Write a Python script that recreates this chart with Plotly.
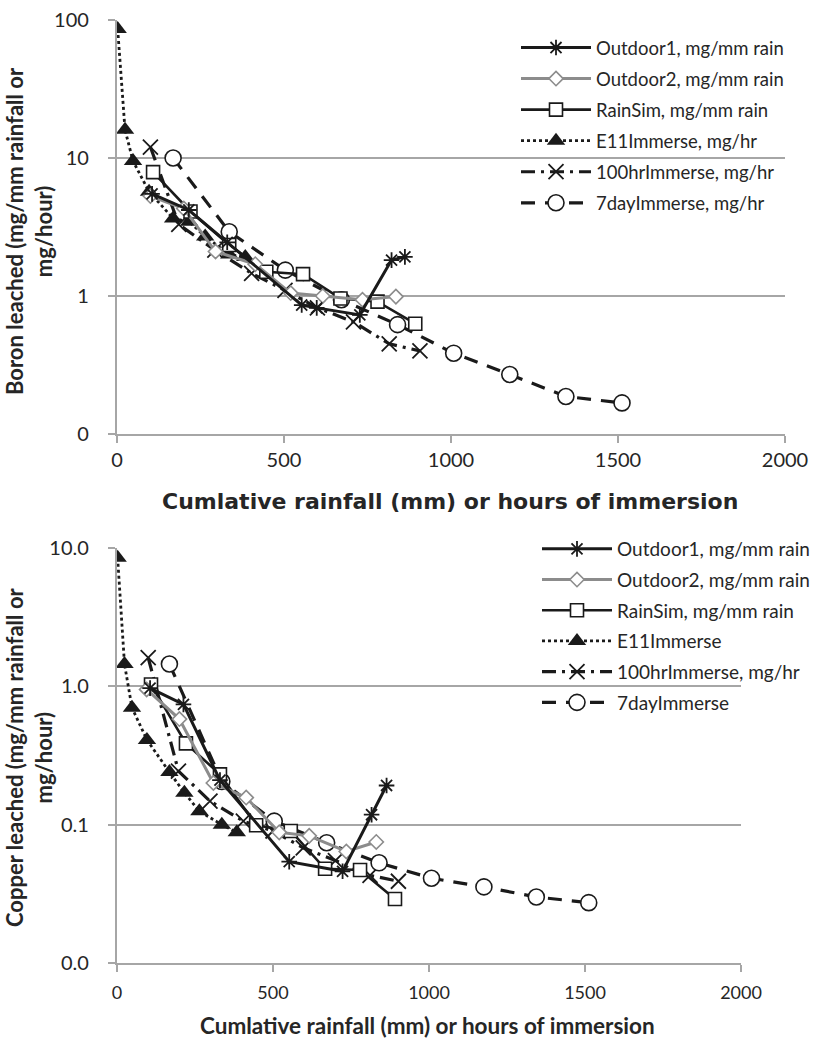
import plotly.graph_objects as go

# ---------------- Boron (top) ----------------
b_out1_x = [105, 215, 330, 553, 598, 727, 822, 862]
b_out1_y = [5.5, 4.2, 2.45, 0.86, 0.82, 0.73, 1.82, 1.92]
b_out2_x = [100, 200, 295, 414, 520, 616, 735, 835]
b_out2_y = [5.3, 4.3, 2.1, 1.7, 1.05, 1.0, 0.94, 0.99]
b_rain_x = [108, 220, 336, 447, 557, 669, 780, 893]
b_rain_y = [7.9, 4.1, 2.34, 1.5, 1.44, 0.96, 0.91, 0.63]
b_e11_x = [2, 24, 48, 96, 168, 216, 264, 336, 384]
b_e11_y = [86, 16, 9.5, 5.7, 3.65, 3.45, 2.7, 2.0, 1.92]
b_100_x = [100, 185, 293, 403, 503, 600, 708, 815, 907]
b_100_y = [12.0, 3.3, 2.15, 1.46, 1.1, 0.82, 0.65, 0.45, 0.40]
b_7d_x = [168, 336, 504, 672, 840, 1008, 1176, 1344, 1512]
b_7d_y = [10.0, 2.92, 1.54, 0.94, 0.62, 0.385, 0.27, 0.187, 0.168]

# ---------------- Copper (bottom) ----------------
c_out1_x = [106, 213, 330, 552, 723, 816, 864]
c_out1_y = [0.97, 0.74, 0.21, 0.054, 0.046, 0.118, 0.192]
c_out2_x = [95, 200, 309, 414, 520, 616, 735, 831]
c_out2_y = [0.95, 0.58, 0.20, 0.157, 0.088, 0.083, 0.064, 0.075]
c_rain_x = [109, 221, 330, 446, 557, 667, 779, 891]
c_rain_y = [1.03, 0.387, 0.231, 0.099, 0.090, 0.048, 0.047, 0.029]
c_e11_x = [2, 24, 48, 96, 168, 216, 264, 336, 384]
c_e11_y = [8.5, 1.45, 0.70, 0.41, 0.24, 0.17, 0.125, 0.10, 0.088]
c_100_x = [100, 197, 298, 405, 500, 597, 700, 811, 902]
c_100_y = [1.61, 0.244, 0.148, 0.106, 0.09, 0.068, 0.055, 0.043, 0.039]
c_7d_x = [168, 336, 504, 672, 840, 1008, 1176, 1344, 1512]
c_7d_y = [1.45, 0.205, 0.106, 0.074, 0.053, 0.041, 0.0355, 0.030, 0.0273]

top_names = ["Outdoor1, mg/mm rain", "Outdoor2, mg/mm rain", "RainSim, mg/mm rain",
             "E11Immerse, mg/hr", "100hrImmerse, mg/hr", "7dayImmerse, mg/hr"]
bot_names = ["Outdoor1, mg/mm rain", "Outdoor2, mg/mm rain", "RainSim, mg/mm rain",
             "E11Immerse", "100hrImmerse, mg/hr", "7dayImmerse"]

x_ticks = [0, 500, 1000, 1500, 2000]
top_yticks = [100, 10, 1, 0.1]
top_ytext = ["100", "10", "1", "0"]
bot_yticks = [10, 1, 0.1, 0.01]
bot_ytext = ["10.0", "1.0", "0.1", "0.0"]

FONT = "Lato, 'Open Sans', sans-serif"
WIDE = "'DejaVu Sans', sans-serif"
W, H = 817, 1043
TXT = "#262626"
PAD = "\u00a0\u00a0\u00a0"

styles = [
    dict(line=dict(color="#1a1a1a", width=3),
         marker=dict(symbol="asterisk-open", size=13, color="#1a1a1a",
                     line=dict(color="#1a1a1a", width=1.8))),
    dict(line=dict(color="#8c8c8c", width=3),
         marker=dict(symbol="diamond", size=11, color="white",
                     line=dict(color="#8c8c8c", width=1.6))),
    dict(line=dict(color="#1a1a1a", width=2.6),
         marker=dict(symbol="square", size=13, color="white",
                     line=dict(color="#1a1a1a", width=1.6))),
    dict(line=dict(color="#1a1a1a", width=2.8, dash="dot"),
         marker=dict(symbol="triangle-up", size=16, color="#1a1a1a",
                     line=dict(color="#1a1a1a", width=0))),
    dict(line=dict(color="#1a1a1a", width=3.2, dash="14px,6px,3px,6px"),
         marker=dict(symbol="x-thin-open", size=15, color="#1a1a1a",
                     line=dict(color="#1a1a1a", width=1.8))),
    dict(line=dict(color="#1a1a1a", width=3.2, dash="14px,10px"),
         marker=dict(symbol="circle", size=16, color="white",
                     line=dict(color="#1a1a1a", width=1.6))),
]

fig = go.Figure()

top_data = [(b_out1_x, b_out1_y), (b_out2_x, b_out2_y), (b_rain_x, b_rain_y),
            (b_e11_x, b_e11_y), (b_100_x, b_100_y), (b_7d_x, b_7d_y)]
bot_data = [(c_out1_x, c_out1_y), (c_out2_x, c_out2_y), (c_rain_x, c_rain_y),
            (c_e11_x, c_e11_y), (c_100_x, c_100_y), (c_7d_x, c_7d_y)]

order = [3, 4, 5, 2, 1, 0]  # drawing order; legend order set by legendrank
for i in order:
    xs, ys = top_data[i]
    fig.add_trace(go.Scatter(x=xs, y=ys, mode="lines+markers", name=top_names[i],
                             xaxis="x", yaxis="y", legend="legend",
                             legendrank=i + 1, legendgroup="t%d" % i,
                             line=styles[i]["line"], marker=styles[i]["marker"]))
for i in order:
    xs, ys = bot_data[i]
    fig.add_trace(go.Scatter(x=xs, y=ys, mode="lines+markers", name=bot_names[i],
                             xaxis="x2", yaxis="y2", legend="legend2",
                             legendrank=i + 1, legendgroup="b%d" % i,
                             line=styles[i]["line"], marker=styles[i]["marker"]))


def px_x(p):
    return p / W


def px_y(p):
    return 1 - p / H


axis_common = dict(showline=True, linecolor="#a6a6a6", linewidth=1.5,
                   ticks="outside", tickcolor="#a6a6a6", ticklen=7, tickwidth=1.5,
                   zeroline=False, automargin=False)

fig.update_layout(
    width=W, height=H,
    margin=dict(l=0, r=0, t=0, b=0, autoexpand=False),
    paper_bgcolor="white", plot_bgcolor="white",
    font=dict(family=FONT, color=TXT),
    xaxis=dict(domain=[px_x(117), px_x(785)], range=[0, 2000], tickvals=x_ticks,
               showgrid=False, anchor="y",
               tickfont=dict(family=FONT, size=20, color=TXT), **axis_common),
    yaxis=dict(domain=[px_y(434), px_y(20)], type="log", range=[-1, 2],
               tickvals=top_yticks, ticktext=[t + PAD for t in top_ytext], showgrid=True,
               gridcolor="#a6a6a6", gridwidth=1.5, anchor="x",
               tickfont=dict(family=FONT, size=20, color=TXT), **axis_common),
    xaxis2=dict(domain=[px_x(117), px_x(741)], range=[0, 2000], tickvals=x_ticks,
                showgrid=False, anchor="y2", ticklabelstandoff=6,
                tickfont=dict(family=FONT, size=18, color=TXT), **axis_common),
    yaxis2=dict(domain=[px_y(963), px_y(548)], type="log", range=[-2, 1],
                tickvals=bot_yticks, ticktext=[t + PAD for t in bot_ytext], showgrid=True,
                gridcolor="#a6a6a6", gridwidth=1.5, anchor="x2",
                tickfont=dict(family=FONT, size=20, color=TXT), **axis_common),
    legend=dict(x=px_x(516), y=px_y(29), xanchor="left", yanchor="top",
                bgcolor="rgba(0,0,0,0)", font=dict(family=FONT, size=18.5, color=TXT),
                tracegroupgap=4, itemwidth=70, traceorder="grouped"),
    legend2=dict(x=px_x(537), y=px_y(530), xanchor="left", yanchor="top",
                 bgcolor="rgba(0,0,0,0)", font=dict(family=FONT, size=19, color=TXT),
                 tracegroupgap=3, itemwidth=70, traceorder="grouped"),
    showlegend=True,
)

annotations = [
    dict(text="<b>Cumlative rainfall (mm) or hours of immersion</b>",
         x=px_x(450), y=px_y(502), xref="paper", yref="paper",
         showarrow=False, font=dict(family=WIDE, size=22, color=TXT),
         xanchor="center", yanchor="middle"),
    dict(text="<b>Cumlative rainfall (mm) or hours of immersion</b>",
         x=px_x(428), y=px_y(1025), xref="paper", yref="paper",
         showarrow=False, font=dict(family=FONT, size=22.5, color=TXT),
         xanchor="center", yanchor="middle"),
    dict(text="<b>Boron leached (mg/mm rainfall or<br>mg/hour)</b>",
         x=px_x(29), y=px_y(231), xref="paper", yref="paper", textangle=-90,
         showarrow=False, font=dict(family=FONT, size=22, color=TXT),
         xanchor="center", yanchor="middle"),
    dict(text="<b>Copper leached (mg/mm rainfall or<br>mg/hour)</b>",
         x=px_x(29), y=px_y(757), xref="paper", yref="paper", textangle=-90,
         showarrow=False, font=dict(family=FONT, size=22, color=TXT),
         xanchor="center", yanchor="middle"),
]
fig.update_layout(annotations=annotations)

fig.write_html("out.html")
